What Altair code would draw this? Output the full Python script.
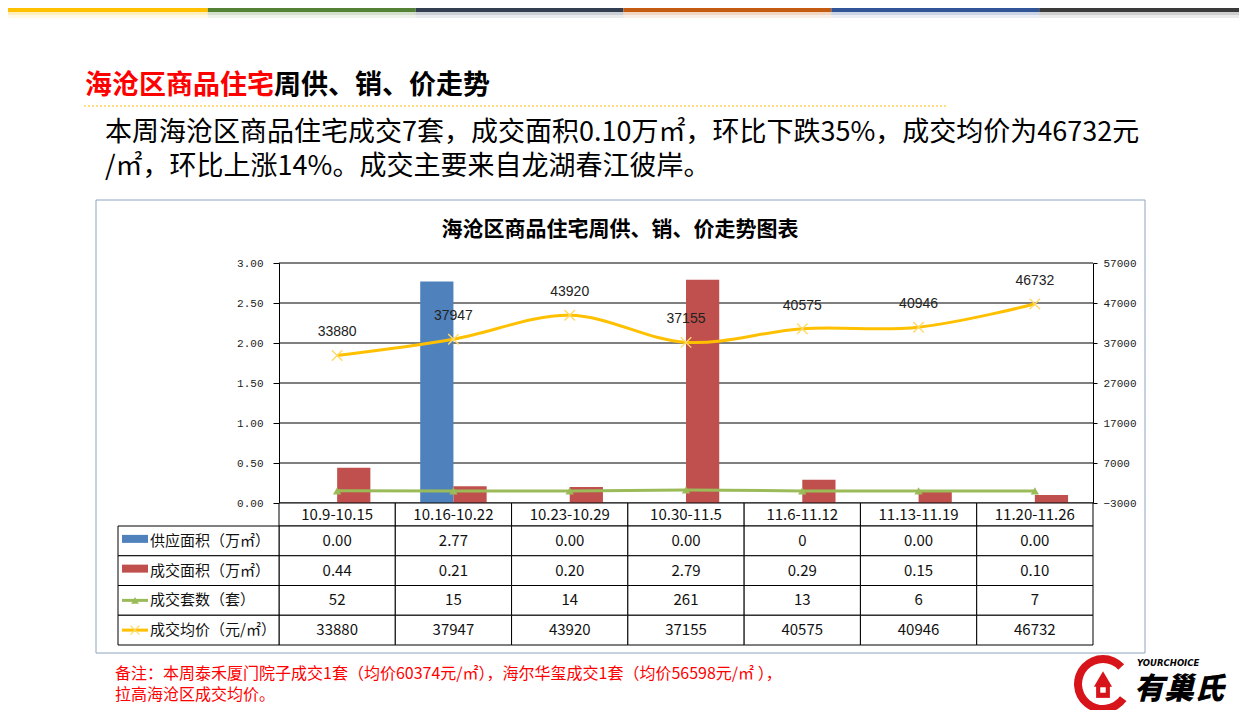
import altair as alt
import pandas as pd

# ---------------- data ----------------
categories = ["10.9-10.15", "10.16-10.22", "10.23-10.29", "10.30-11.5",
              "11.6-11.12", "11.13-11.19", "11.20-11.26"]
supply_area = [0.00, 2.77, 0.00, 0.00, 0.00, 0.00, 0.00]
supply_text = ["0.00", "2.77", "0.00", "0.00", "0", "0.00", "0.00"]
deal_area = [0.44, 0.21, 0.20, 2.79, 0.29, 0.15, 0.10]
deal_units = [52, 15, 14, 261, 13, 6, 7]
avg_price = [33880, 37947, 43920, 37155, 40575, 40946, 46732]

series_names = ["供应面积（万㎡）", "成交面积（万㎡）", "成交套数（套）", "成交均价（元/㎡）"]
series_colors = ["#4F81BD", "#C0504D", "#9BBB59", "#FFC000"]

left_ticks = [0, 0.5, 1.0, 1.5, 2.0, 2.5, 3.0]
right_ticks = [-3000, 7000, 17000, 27000, 37000, 47000, 57000]

stripe_colors = ["#FFC000", "#548235", "#333F50", "#C55A11", "#2F5597", "#3A3A3A"]

heading_red = "海沧区商品住宅"
heading_black = "周供、销、价走势"
para1 = "本周海沧区商品住宅成交7套，成交面积0.10万㎡，环比下跌35%，成交均价为46732元"
para2 = "/㎡，环比上涨14%。成交主要来自龙湖春江彼岸。"
chart_title = "海沧区商品住宅周供、销、价走势图表"
note1 = "备注：本周泰禾厦门院子成交1套（均价60374元/㎡），海尔华玺成交1套（均价56598元/㎡ ），"
note2 = "拉高海沧区成交均价。"

# ---------------- layout ----------------
W, H = 1231, 702
M = 8


def X(p):
    return p - M


def Y(p):
    return p - M


PL, PR, PT, PB = X(279), X(1093), Y(263), Y(503)
TL, HB, TB = X(118), Y(526), Y(645)

CJK = "Noto Sans CJK SC"
NUM = "Liberation Mono"

xs = alt.Scale(type="band", domain=categories, range=[PL, PR], paddingInner=0, paddingOuter=0)
yL = alt.Scale(type="linear", domain=[0, 3], range=[PB, PT], zero=False, nice=False)
yR = alt.Scale(type="linear", domain=[-3000, 57000], range=[PB, PT], zero=False, nice=False)
yT = alt.Scale(type="band", domain=series_names, range=[HB, TB], paddingInner=0, paddingOuter=0)

axisL = alt.Axis(orient="left", offset=-PL, values=left_ticks, format=".2f", grid=False,
                 domainColor="black", domainWidth=1, tickColor="black", tickSize=6,
                 labelPadding=10, labelFont=NUM, labelFontSize=11, labelColor="#222",
                 labelOverlap=False, title=None)
axisR = alt.Axis(orient="right", offset=-(W - PR), values=right_ticks, format="d", grid=False,
                 domainColor="black", domainWidth=1, tickColor="black", tickSize=4,
                 labelPadding=6, labelFont=NUM, labelFontSize=11, labelColor="#222",
                 labelOverlap=False, title=None)

one = pd.DataFrame({"k": [0]})

df = pd.DataFrame({"cat": categories, "idx": list(range(len(categories))),
                   "units": deal_units, "price": avg_price})
bars_df = pd.DataFrame({"cat": categories * 2,
                        "series": ["供应"] * len(categories) + ["成交"] * len(categories),
                        "value": supply_area + deal_area})

# ---------------- plot layers ----------------
grid = alt.Chart(pd.DataFrame({"v": left_ticks})).mark_rule(color="black", strokeWidth=1).encode(
    y=alt.Y("v:Q", scale=yL, axis=axisL), x=alt.value(PL), x2=alt.value(PR))

bars = alt.Chart(bars_df).mark_bar().encode(
    x=alt.X("cat:N", scale=xs, axis=None),
    xOffset=alt.XOffset("series:N", scale=alt.Scale(domain=["供应", "成交"], paddingInner=0, paddingOuter=0.75)),
    y=alt.Y("value:Q", scale=yL, axis=axisL),
    color=alt.Color("series:N", scale=alt.Scale(domain=["供应", "成交"], range=series_colors[:2]), legend=None),
)
left_group = alt.layer(grid, bars)

xc = alt.X("cat:N", scale=xs, axis=None, bandPosition=0.5)
price_line = alt.Chart(df).mark_line(color="#FFC000", strokeWidth=3, interpolate="cardinal").encode(
    x=xc, y=alt.Y("price:Q", scale=yR, axis=axisR), order="idx:Q")
XPATH = "M-1,-1L1,1M-1,1L1,-1"
price_pts = alt.Chart(df).mark_point(shape=XPATH, filled=False, color="#FFD966", strokeWidth=1.4, size=110, opacity=1).encode(
    x=xc, y=alt.Y("price:Q", scale=yR, axis=axisR))
price_lbl = alt.Chart(df).mark_text(font="Liberation Sans", fontSize=14, color="#222", dy=-23).encode(
    x=xc, y=alt.Y("price:Q", scale=yR, axis=axisR), text="price:Q")
units_line = alt.Chart(df).mark_line(color="#9BBB59", strokeWidth=3).encode(
    x=xc, y=alt.Y("units:Q", scale=yR, axis=axisR), order="idx:Q")
units_pts = alt.Chart(df).mark_point(shape="triangle-up", filled=True, color="#9BBB59", size=70, opacity=1).encode(
    x=xc, y=alt.Y("units:Q", scale=yR, axis=axisR))
right_group = alt.layer(price_line, units_line, units_pts, price_pts, price_lbl)

# ---------------- data table ----------------
row_texts = [supply_text,
             ["%.2f" % v for v in deal_area],
             [str(v) for v in deal_units],
             [str(v) for v in avg_price]]
cells_df = pd.DataFrame([{"row": r, "cat": c, "txt": t}
                         for r, texts in zip(series_names, row_texts)
                         for c, t in zip(categories, texts)])
yrow = alt.Y("row:N", scale=yT, axis=None)
yrow_c = alt.Y("row:N", scale=yT, axis=None, bandPosition=0.5)

cells = alt.Chart(cells_df).mark_rect(fill="white", stroke="black", strokeWidth=1).encode(
    x=alt.X("cat:N", scale=xs, axis=None), y=yrow)
cell_txt = alt.Chart(cells_df).mark_text(font=CJK, fontSize=15, color="#111").encode(
    x=xc, y=yrow_c, text="txt:N")

lab_df = pd.DataFrame({"row": series_names, "color": series_colors, "i": [0, 1, 2, 3]})
label_cells = alt.Chart(lab_df).mark_rect(fill="white", stroke="black", strokeWidth=1).encode(
    x=alt.value(TL), x2=alt.value(PL), y=yrow)
label_txt = alt.Chart(lab_df).mark_text(font=CJK, fontSize=15, color="#111", align="left").encode(
    x=alt.value(X(150)), y=yrow_c, text="row:N")
sw_rect = alt.Chart(lab_df).transform_filter("datum.i < 2").mark_rule(strokeWidth=8, yOffset=-2).encode(
    x=alt.value(X(122)), x2=alt.value(X(148)), y=yrow_c, color=alt.Color("color:N", scale=None))
sw_line = alt.Chart(lab_df).transform_filter("datum.i >= 2").mark_rule(strokeWidth=3).encode(
    x=alt.value(X(122)), x2=alt.value(X(148)), y=yrow_c, color=alt.Color("color:N", scale=None))
sw_tri = alt.Chart(lab_df).transform_filter("datum.i == 2").mark_point(
    shape="triangle-up", filled=True, size=60, color="#9BBB59", opacity=1).encode(
    x=alt.value(X(135)), y=yrow_c)
sw_x = alt.Chart(lab_df).transform_filter("datum.i == 3").mark_point(
    shape=XPATH, filled=False, size=80, color="#FFD966", strokeWidth=1.3, opacity=1).encode(
    x=alt.value(X(135)), y=yrow_c)
table_group = alt.layer(cells, cell_txt, label_cells, label_txt, sw_rect, sw_line, sw_tri, sw_x)

header = alt.Chart(df).mark_rect(fill="white", stroke="black", strokeWidth=1).encode(
    x=alt.X("cat:N", scale=xs, axis=None), y=alt.value(PB), y2=alt.value(HB))
header_txt = alt.Chart(df).mark_text(font=CJK, fontSize=15, color="#111").encode(
    x=xc, y=alt.value((PB + HB) / 2), text="cat:N")


# ---------------- decorations ----------------
def text_layer(s, x, y, size, color="#000000", weight="normal", align="left", font=CJK, style="normal"):
    return alt.Chart(one).mark_text(text=s, font=font, fontSize=size, fontWeight=weight, fontStyle=style,
                                    color=color, align=align, baseline="middle").encode(
        x=alt.value(X(x)), y=alt.value(Y(y)))


deco = []
seg = 1247 / len(stripe_colors)
for i, c in enumerate(stripe_colors):
    x0, x1 = max(0, X(i * seg)), X((i + 1) * seg)
    deco.append(alt.Chart(one).mark_rect(color=c).encode(
        x=alt.value(x0), x2=alt.value(x1), y=alt.value(0), y2=alt.value(4)))
    deco.append(alt.Chart(one).mark_rect(color=c, opacity=0.25).encode(
        x=alt.value(x0), x2=alt.value(x1), y=alt.value(4), y2=alt.value(7)))
    deco.append(alt.Chart(one).mark_rect(color=c, opacity=0.1).encode(
        x=alt.value(x0), x2=alt.value(x1), y=alt.value(7), y2=alt.value(10)))

deco.append(text_layer(heading_red, 85, 86, 27, color="#FF0000", weight="bold"))
deco.append(text_layer(heading_black, 274, 86, 27, weight="bold"))
deco.append(alt.Chart(one).mark_rule(color="#FFC000", strokeWidth=1, strokeDash=[2, 2]).encode(
    x=alt.value(X(84)), x2=alt.value(X(947)), y=alt.value(Y(106))))
deco.append(text_layer(para1, 105, 133, 27))
deco.append(text_layer(para2, 105, 167, 27))

border = alt.Chart(one).mark_rect(fillOpacity=0, stroke="#8EA4C2", strokeWidth=1).encode(
    x=alt.value(X(96)), x2=alt.value(X(1145)), y=alt.value(Y(200)), y2=alt.value(Y(653)))
title_layer = text_layer(chart_title, 620, 230, 21, weight="bold", align="center")

after = [
    text_layer(note1, 115, 674, 16, color="#FF0000"),
    text_layer(note2, 115, 695, 16, color="#FF0000"),
    alt.Chart(one).mark_arc(color="#D7141A", theta=2.2, theta2=7.1, radius=29, radius2=21).encode(
        x=alt.value(X(1103)), y=alt.value(Y(684))),
    alt.Chart(one).mark_point(shape="triangle-up", filled=True, color="#D7141A", size=330, opacity=1).encode(
        x=alt.value(X(1103)), y=alt.value(Y(679))),
    alt.Chart(one).mark_point(shape="square", filled=True, color="#D7141A", size=190, opacity=1).encode(
        x=alt.value(X(1103)), y=alt.value(Y(691))),
    alt.Chart(one).mark_point(shape="square", filled=True, color="white", size=30, opacity=1).encode(
        x=alt.value(X(1103)), y=alt.value(Y(690))),
    text_layer("YOURCHOICE", 1137, 663, 8.5, weight="bold", style="italic", font="DejaVu Sans"),
    text_layer("有巢氏", 1134, 690, 30, weight=900, style="italic"),
]

chart = alt.layer(
    *deco, border, title_layer, left_group, right_group, header, header_txt, table_group, *after
).resolve_scale(y="independent", color="independent").properties(
    width=W, height=H, autosize=alt.AutoSizeParams(type="none"), padding=0, background="white"
).configure_view(stroke=None)

chart.save("out.html", embed_options={"renderer": "svg", "actions": False})
